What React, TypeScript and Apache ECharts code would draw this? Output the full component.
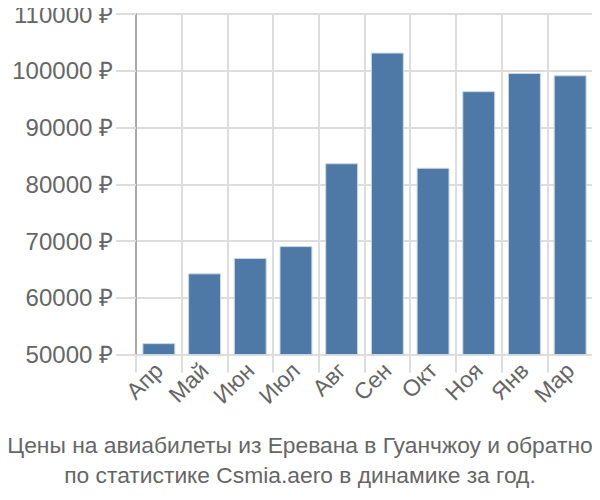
import React, { useEffect, useRef } from "react";
import * as echarts from "echarts";

const months = ["Апр", "Май", "Июн", "Июл", "Авг", "Сен", "Окт", "Ноя", "Янв", "Мар"];
const prices = [52000, 64300, 67000, 69100, 83700, 103200, 82900, 96400, 99600, 99200];
const titleLines = [
  "Цены на авиабилеты из Еревана в Гуанчжоу и обратно",
  "по статистике Csmia.aero в динамике за год.",
];

export default function App() {
  const ref = useRef<HTMLDivElement>(null);
  useEffect(() => {
    if (!ref.current) return;
    const chart = echarts.init(ref.current, undefined, { renderer: "svg" });
    const font = "Liberation Sans, Arial, sans-serif";
    chart.setOption({
      animation: false,
      textStyle: { fontFamily: font },
      title: {
        text: titleLines.join("\n"),
        left: "center",
        top: 425,
        textStyle: { fontFamily: font, fontSize: 22.8, fontWeight: "normal", color: "#666", lineHeight: 30 },
      },
      grid: { left: 136, right: 7, top: 14, bottom: 145.5, containLabel: false },
      xAxis: {
        type: "category",
        data: months,
        boundaryGap: true,
        axisLine: { show: false },
        axisTick: { show: true, length: 18, lineStyle: { color: "#ddd", width: 2 } },
        splitLine: { show: true, lineStyle: { color: "#ddd", width: 2 } },
        axisLabel: { rotate: 45, margin: 12, fontSize: 23, color: "#666", fontFamily: font },
      },
      yAxis: {
        type: "value",
        min: 50000,
        max: 110000,
        interval: 10000,
        axisLine: { show: true, lineStyle: { color: "#aaa", width: 2 } },
        axisTick: { show: true, length: 20, lineStyle: { color: "#ddd", width: 2 } },
        splitLine: { show: true, lineStyle: { color: "#ddd", width: 2 } },
        axisLabel: {
          formatter: (v: number) => `${v} ₽`,
          margin: 23,
          fontSize: 24,
          color: "#666",
          fontFamily: font,
        },
      },
      series: [
        {
          type: "bar",
          data: prices,
          barCategoryGap: "28%",
          itemStyle: { color: "#4e79a7", borderColor: "#c9d7e6", borderWidth: 1 },
        },
      ],
    });
    return () => chart.dispose();
  }, []);
  return <div ref={ref} style={{ width: 600, height: 500, margin: -8 }} />;
}
